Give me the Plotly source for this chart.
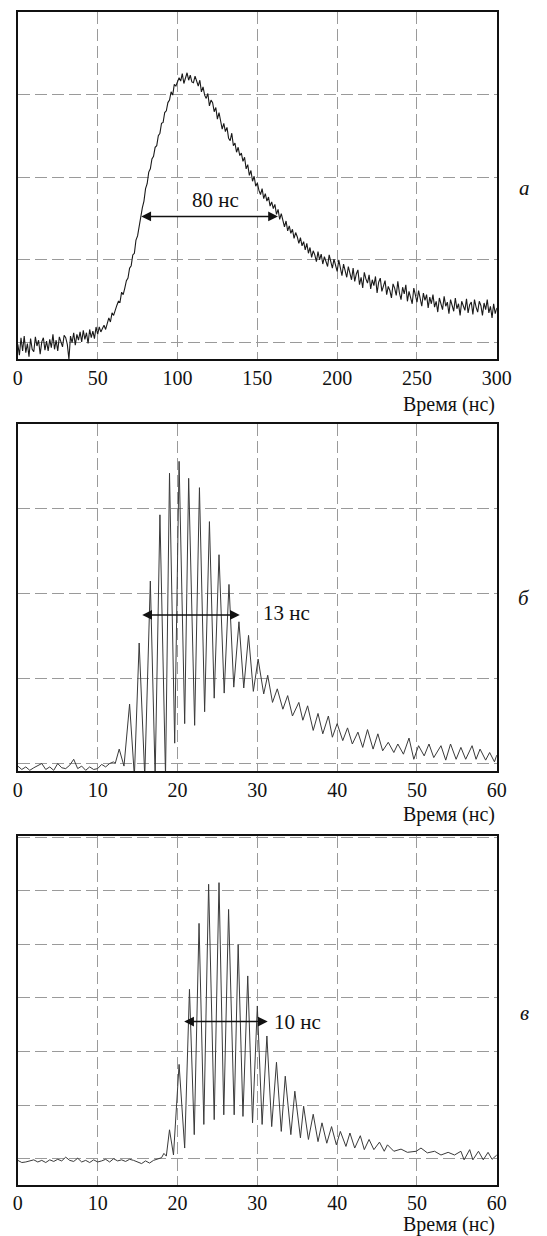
import plotly.graph_objects as go

# ---------------- data ----------------
# Panel a: time 0..300 ns, 1 ns step
t_a = list(range(0, 301))
sig_a = [
    -0.02, -0.15, 0.06, -0.10, 0.08, -0.12, -0.01, -0.17, 0.05, -0.08,
    -0.11, 0.07, -0.04, 0.03, -0.14, 0.01, 0.06, -0.09, 0.02, -0.10,
    0.04, -0.06, 0.10, -0.08, 0.03, -0.10, 0.07, 0.01, -0.05, 0.09,
    0.06, -0.02, -0.20, 0.08, 0.00, 0.12, -0.03, 0.10, 0.03, 0.13,
    0.01, 0.15, 0.04, 0.12, -0.01, 0.16, 0.06, 0.14, 0.05, 0.19,
    0.10, 0.19, 0.13, 0.17, 0.21, 0.16, 0.24, 0.30, 0.25, 0.36,
    0.33, 0.40, 0.45, 0.50, 0.49, 0.61, 0.58, 0.66, 0.75, 0.78,
    0.90, 0.93, 1.06, 1.08, 1.24, 1.29, 1.42, 1.50, 1.63, 1.71,
    1.86, 1.92, 2.06, 2.10, 2.22, 2.25, 2.36, 2.38, 2.50, 2.53,
    2.65, 2.66, 2.78, 2.80, 2.90, 2.93, 3.03, 2.99, 3.12, 3.10,
    3.14, 3.20, 3.16, 3.25, 3.13, 3.21, 3.26, 3.17, 3.23, 3.15,
    3.14, 3.22, 3.15, 3.10, 3.17, 3.03, 3.09, 2.99, 2.95, 3.01,
    2.86, 2.93, 2.90, 2.79, 2.84, 2.70, 2.78, 2.66, 2.58, 2.65,
    2.55, 2.60, 2.47, 2.44, 2.53, 2.38, 2.41, 2.30, 2.36, 2.26,
    2.29, 2.19, 2.24, 2.10, 2.15, 2.02, 2.08, 1.95, 2.01, 1.89,
    1.93, 1.84, 1.79, 1.86, 1.74, 1.80, 1.71, 1.76, 1.65, 1.70,
    1.62, 1.67, 1.55, 1.61, 1.49, 1.56, 1.46, 1.40, 1.47, 1.35,
    1.41, 1.32, 1.37, 1.26, 1.33, 1.28, 1.20, 1.27, 1.17, 1.22,
    1.12, 1.20, 1.08, 1.15, 1.03, 1.11, 1.06, 0.98, 1.10, 1.00,
    1.07, 0.95, 1.04, 0.99, 0.92, 1.06, 0.97, 0.90, 1.01, 0.94,
    0.86, 1.00, 0.90, 0.81, 0.95, 0.87, 0.79, 0.92, 0.84, 0.76,
    0.90, 0.74, 0.83, 0.88, 0.70, 0.79, 0.66, 0.85, 0.77, 0.72,
    0.82, 0.65, 0.76, 0.69, 0.80, 0.60, 0.73, 0.78, 0.62, 0.70,
    0.75, 0.58, 0.68, 0.63, 0.54, 0.71, 0.66, 0.57, 0.74, 0.60,
    0.52, 0.67, 0.59, 0.70, 0.50, 0.62, 0.55, 0.47, 0.66, 0.58,
    0.49, 0.63, 0.53, 0.44, 0.60, 0.51, 0.58, 0.42, 0.55, 0.47,
    0.58, 0.43, 0.50, 0.37, 0.54, 0.46, 0.40, 0.56, 0.44, 0.49,
    0.35, 0.52, 0.45, 0.38, 0.54, 0.41, 0.47, 0.33, 0.50, 0.44,
    0.39, 0.53, 0.36, 0.46, 0.49, 0.34, 0.52, 0.43, 0.37, 0.50,
    0.45, 0.33, 0.48, 0.40, 0.52, 0.36, 0.44, 0.30, 0.47, 0.35, 0.42,
]

# Panel б: time (ns) and signal
t_b = [
    0, 0.5, 1, 1.5, 2, 2.5, 3, 3.5, 4, 4.5, 5, 5.5, 6, 6.5, 7, 7.5, 8, 8.5, 9, 9.5,
    10, 10.5, 11, 11.5, 12, 12.2, 12.7, 13.3, 14.0, 14.6, 15.2, 15.9, 16.6, 17.2,
    17.8, 18.5, 19.0, 19.65, 20.2, 20.9, 21.4, 22.15, 22.75, 23.4, 24.0, 24.6,
    25.2, 25.85, 26.45, 27.05, 27.7, 28.3, 28.9, 29.5, 30.1, 30.8, 31.3, 31.9,
    32.5, 33.2, 33.8, 34.4, 35.2, 35.7, 36.3, 37.0, 37.6, 38.2, 38.9, 39.4,
    40.0, 40.7, 41.3, 41.9, 42.6, 43.2, 43.8, 44.5, 45.1, 45.7, 46.4, 47.1,
    47.6, 48.3, 49.0, 49.6, 50.2, 50.9, 51.5, 52.1, 53.0, 53.6, 54.2, 54.9,
    55.5, 56.1, 56.9, 57.4, 57.9, 58.6, 59.1, 59.7, 60.0,
]
sig_b = [
    -0.03, -0.07, -0.04, -0.08, -0.05, -0.02, 0.00, -0.07, -0.04, -0.08, 0.00, -0.05,
    -0.06, -0.02, 0.05, -0.06, -0.03, -0.08, -0.04, -0.07, -0.06, -0.01, -0.04, 0.00,
    0.02, 0.00, 0.17, -0.03, 0.70, -0.15, 1.42, -0.15, 2.15, -0.15,
    2.93, -0.15, 3.42, 0.24, 3.56, 0.47, 3.36, 0.45, 3.25, 0.61, 2.85, 0.77,
    2.46, 0.83, 2.11, 0.90, 1.67, 0.89, 1.51, 0.85, 1.23, 0.82, 1.04, 0.72,
    0.88, 0.64, 0.80, 0.56, 0.72, 0.51, 0.68, 0.39, 0.59, 0.35, 0.56, 0.31,
    0.47, 0.27, 0.42, 0.23, 0.37, 0.19, 0.40, 0.17, 0.35, 0.15, 0.25, 0.13,
    0.23, 0.11, 0.30, 0.05, 0.21, 0.09, 0.23, 0.07, 0.21, 0.04, 0.23, 0.05,
    0.19, 0.05, 0.21, 0.05, 0.17, 0.04, 0.13, 0.02, 0.10,
]

# Panel в: time (ns) and signal
t_c = [
    0, 0.5, 1, 1.5, 2, 2.5, 3, 3.5, 4, 4.5, 5, 5.5, 6, 6.5, 7, 7.5, 8, 8.5, 9, 9.5,
    10, 10.5, 11, 11.5, 12, 12.5, 13, 13.5, 14, 14.5, 15, 15.5, 16, 16.5, 17, 17.5,
    18.0, 18.3, 18.6, 19.0, 19.5, 20.2, 20.9, 21.5, 22.1, 22.7, 23.3, 23.9, 24.6,
    25.2, 25.8, 26.4, 27.1, 27.6, 28.2, 28.8, 29.4, 30.0, 30.6, 31.2, 31.8,
    32.4, 33.0, 33.5, 34.2, 34.7, 35.4, 35.8, 36.4, 37.0, 37.6, 38.1, 38.7,
    39.3, 39.9, 40.4, 41.1, 41.6, 42.2, 42.9, 43.4, 44.0, 44.6, 45.3, 45.9,
    46.3, 47.1, 48.0, 48.8, 49.9, 50.5, 51.3, 52.2, 53.0, 53.9, 54.7, 55.5,
    55.9, 56.6, 57.0, 57.7, 58.3, 58.9, 59.4, 60.0,
]
sig_c = [
    -0.03, -0.07, -0.06, -0.04, -0.02, -0.06, -0.03, -0.07, -0.02, -0.05, -0.01, -0.04,
    0.03, -0.03, -0.05, 0.01, -0.06, -0.03, -0.07, -0.02, -0.06, -0.04, -0.01, -0.06,
    0.00, -0.04, -0.02, -0.05, -0.01, -0.03, -0.06, -0.09, -0.04, -0.08, -0.03, 0.00,
    0.02, 0.10, 0.05, 0.54, 0.07, 1.76, 0.20, 3.16, 0.45, 4.39, 0.64, 5.12, 0.73,
    5.15, 0.82, 4.65, 0.82, 4.00, 0.79, 3.41, 0.67, 2.85, 0.64, 2.29, 0.60,
    1.80, 0.51, 1.54, 0.45, 1.26, 0.39, 0.98, 0.36, 0.83, 0.32, 0.67, 0.29,
    0.60, 0.26, 0.51, 0.23, 0.48, 0.20, 0.43, 0.17, 0.36, 0.17, 0.31, 0.14,
    0.26, 0.14, 0.18, 0.12, 0.14, 0.20, 0.11, 0.14, 0.07, 0.12, 0.07, 0.14,
    -0.02, 0.17, -0.02, 0.14, -0.02, 0.12, -0.01, 0.07,
]

ticks_a = [0, 50, 100, 150, 200, 250, 300]
ticks_bc = [0, 10, 20, 30, 40, 50, 60]
xlabel = "Время (нс)"
panel_labels = ["а", "б", "в"]

# ---------------- figure ----------------
W, H = 547, 1236
SERIF = "Liberation Serif, serif"
GRID = "#9a9a9a"

fig = go.Figure()
fig.add_trace(go.Scatter(x=t_a, y=sig_a, mode="lines", xaxis="x", yaxis="y",
                         line=dict(color="#1a1a1a", width=1.1), showlegend=False))
fig.add_trace(go.Scatter(x=t_b, y=sig_b, mode="lines", xaxis="x2", yaxis="y2",
                         line=dict(color="#3a3a3a", width=1.0), showlegend=False))
fig.add_trace(go.Scatter(x=t_c, y=sig_c, mode="lines", xaxis="x3", yaxis="y3",
                         line=dict(color="#3a3a3a", width=1.0), showlegend=False))

xdom = [13.3 / W, 510.5 / W]
def ydom(top_px, bot_px):
    return [1 - bot_px / H, 1 - top_px / H]

def xaxis(ticks, anchor):
    return dict(domain=xdom, range=[ticks[0], ticks[-1]], anchor=anchor,
                tickmode="array", tickvals=ticks, ticktext=[str(v) for v in ticks],
                showgrid=True, gridcolor=GRID, gridwidth=1.3, griddash="12px,5px",
                zeroline=False, showline=True, mirror=True, linecolor="#111", linewidth=1.6,
                ticks="", tickfont=dict(family=SERIF, size=20, color="#111"),
                ticklabelstandoff=0)

def yaxis(rng, dtick, dom, anchor):
    return dict(domain=dom, range=rng, anchor=anchor, tickmode="linear", tick0=0, dtick=dtick,
                showgrid=True, gridcolor=GRID, gridwidth=1.3, griddash="12px,5px",
                zeroline=False, showline=True, mirror=True, linecolor="#111", linewidth=1.6,
                showticklabels=False, ticks="")

fig.update_layout(
    width=W, height=H, autosize=False,
    margin=dict(l=0, r=0, t=0, b=0),
    paper_bgcolor="white", plot_bgcolor="white",
    font=dict(family=SERIF, color="#111"),
    xaxis=xaxis(ticks_a, "y"),
    yaxis=yaxis([-0.197, 4.0], 1, ydom(11.5, 359), "x"),
    xaxis2=xaxis(ticks_bc, "y2"),
    yaxis2=yaxis([-0.088, 4.0], 1, ydom(424, 771), "x2"),
    xaxis3=xaxis(ticks_bc, "y3"),
    yaxis3=yaxis([-0.48, 6.02], 1, ydom(836, 1184.5), "x3"),
)

ann = []
# double-headed arrows (FWHM markers)
arrows = [("x", "y", 76.4, 162.9, 1.525),
          ("x2", "y2", 15.4, 27.8, 1.75),
          ("x3", "y3", 20.65, 31.3, 2.56)]
for xr, yr, x0, x1, yv in arrows:
    ann.append(dict(xref=xr, yref=yr, axref=xr, ayref=yr, x=x1, y=yv, ax=x0, ay=yv,
                    text="", showarrow=True, arrowhead=2, startarrowhead=2,
                    arrowside="end+start", arrowsize=1.3, startarrowsize=1.3,
                    arrowwidth=1.5, arrowcolor="#111", standoff=0, startstandoff=0))
# duration labels
ann.append(dict(xref="x", yref="y", x=123.9, y=1.72, text="80 нс", showarrow=False,
                font=dict(family=SERIF, size=21, color="#111")))
ann.append(dict(xref="x2", yref="y2", x=33.6, y=1.77, text="13 нс", showarrow=False,
                font=dict(family=SERIF, size=21, color="#111")))
ann.append(dict(xref="x3", yref="y3", x=35.0, y=2.56, text="10 нс", showarrow=False,
                font=dict(family=SERIF, size=21, color="#111")))
# axis titles
for ypx in (404, 814, 1224):
    ann.append(dict(xref="paper", yref="paper", x=510.5 / W, y=1 - ypx / H,
                    xanchor="right", yanchor="middle", text=xlabel, showarrow=False,
                    font=dict(family=SERIF, size=20, color="#111")))
# panel letters
for lab, ypx in zip(panel_labels, (188, 598, 1013)):
    ann.append(dict(xref="paper", yref="paper", x=539 / W, y=1 - ypx / H,
                    xanchor="center", yanchor="middle", text="<i>" + lab + "</i>",
                    showarrow=False, font=dict(family=SERIF, size=21, color="#111")))

fig.update_layout(annotations=ann)
# remove the browser's default 8px body margin so the figure fills the window exactly
fig.write_html("out.html", config={"displayModeBar": False},
               post_script="document.body.style.margin='0';document.body.style.padding='0';"
                           "document.body.style.overflow='hidden';")
